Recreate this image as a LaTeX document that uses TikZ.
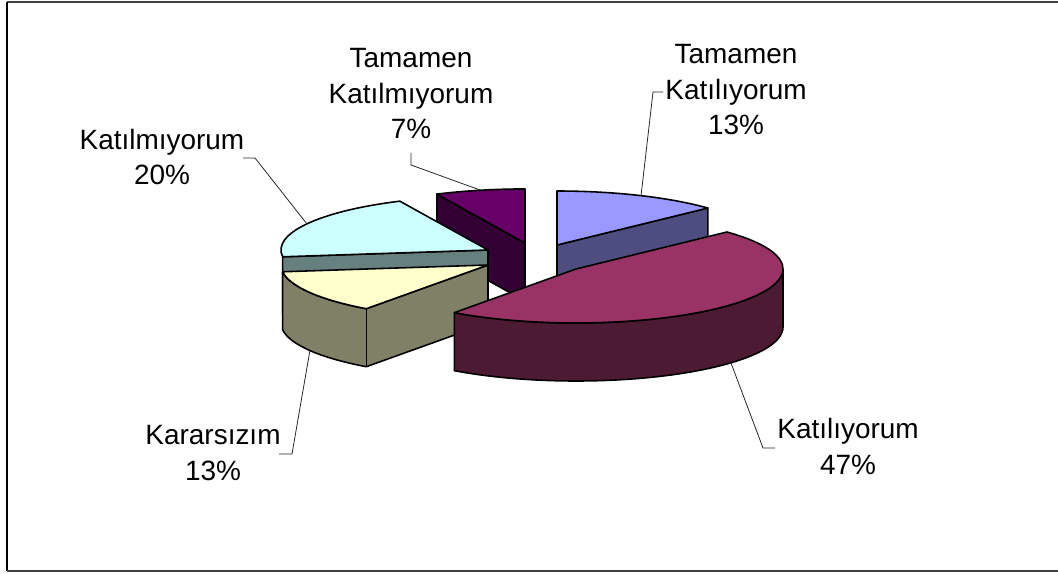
\documentclass[tikz,border=0pt]{standalone}
\usepackage{fontspec}
\setmainfont{Liberation Sans}
\definecolor{tkTop}{RGB}{153,153,255}
\definecolor{tkSide}{RGB}{77,77,128}
\definecolor{kTop}{RGB}{153,51,102}
\definecolor{kSide}{RGB}{77,26,51}
\definecolor{krTop}{RGB}{255,255,204}
\definecolor{krSide}{RGB}{128,128,102}
\definecolor{kmTop}{RGB}{204,255,255}
\definecolor{kmSide}{RGB}{102,128,128}
\definecolor{tkmTop}{RGB}{102,0,102}
\definecolor{tkmSide}{RGB}{51,0,51}
\begin{document}
\begin{tikzpicture}[x=0.02cm,y=-0.02cm,
    slice/.style={draw=black,line width=0.9pt,line join=round},
    leader/.style={draw=black!85,line width=0.45pt},
    lbl/.style={align=center,anchor=base,inner sep=0pt,font=\fontsize{15.9}{20.4}\selectfont}]
    \useasboundingbox (0,0) rectangle (1058,574);
    % frame
    \draw[black!75,line width=1.4pt] (7,2) -- (1058,2);
    \draw[black,line width=1.2pt] (7,2) -- (7,571);
    \draw[black!75,line width=1.4pt] (7,571) -- (1058,571);
    % Tamamen Katilmiyorum 7%
    \filldraw[slice,fill=tkmSide] (436.9,194.1) -- (525,243) -- (525,301) -- (436.9,252.1) -- cycle;
    \filldraw[slice,fill=tkmTop] (525,243) -- (436.9,194.1) arc[start angle=244.8,end angle=270,x radius=207,y radius=54] -- cycle;
    % Tamamen Katiliyorum 13%
    \filldraw[slice,fill=tkSide] (557,245) -- (707.9,208) -- (707.9,266) -- (557,303) -- cycle;
    \filldraw[slice,fill=tkTop] (557,245) -- (557,191) arc[start angle=-90,end angle=-43.2,x radius=207,y radius=54] -- cycle;
    % Katilmiyorum 20%
    \filldraw[slice,fill=kmSide] (488,250) -- (282.6,256.8) -- (282.6,314.8) -- (488,308) -- cycle;
    \filldraw[slice,fill=kmTop] (488,250) -- (282.6,256.8) arc[start angle=172.8,end angle=244.8,x radius=207,y radius=54] -- cycle;
    % Kararsizim 13%
    \filldraw[slice,fill=krSide] (488,323) -- (366.3,366.7) arc[start angle=126,end angle=172.8,x radius=207,y radius=54]
        -- (282.6,271.8) arc[start angle=172.8,end angle=126,x radius=207,y radius=54] -- (488,265) -- cycle;
    \draw[slice] (366.3,308.7) -- (366.3,366.7);
    \filldraw[slice,fill=krTop] (488,265) -- (366.3,308.7) arc[start angle=126,end angle=172.8,x radius=207,y radius=54] -- cycle;
    % Katiliyorum 47%
    \filldraw[slice,fill=kSide] (783,269) -- (783,327) arc[start angle=0,end angle=126,x radius=207,y radius=54]
        -- (454.3,312.7) arc[start angle=126,end angle=0,x radius=207,y radius=54] -- cycle;
    \filldraw[slice,fill=kTop] (576,269) -- (726.9,232) arc[start angle=-43.2,end angle=126,x radius=207,y radius=54] -- cycle;
    % labels
    \path (736,135) node[lbl] (tkLbl) {Tamamen\\Katılıyorum\\13\%};
    \path (411,139) node[lbl] (tkmLbl) {Tamamen\\Katılmıyorum\\7\%};
    \path (162,185) node[lbl] (kmLbl) {Katılmıyorum\\20\%};
    \path (213,480) node[lbl] (krLbl) {Kararsızım\\13\%};
    \path (848,474) node[lbl] (kLbl) {Katılıyorum\\47\%};
    % leader lines
    \coordinate (tkRim) at (641,196);
    \coordinate (tkBend) at (653,92);
    \coordinate (tkEnd) at (663,92);
    \coordinate (tkmRim) at (480,190);
    \coordinate (tkmBend) at (411,165);
    \coordinate (tkmEnd) at (411,153);
    \coordinate (kmRim) at (307,224);
    \coordinate (kmBend) at (255,158);
    \coordinate (kmEnd) at (243,158);
    \coordinate (krRim) at (310,350);
    \coordinate (krBend) at (292,454);
    \coordinate (krEnd) at (279,454);
    \coordinate (kRim) at (731,363);
    \coordinate (kBend) at (763,448);
    \coordinate (kEnd) at (775,448);
    \draw[leader] (tkRim) -- (tkBend) -- (tkEnd);
    \draw[leader] (tkmRim) -- (tkmBend) -- (tkmEnd);
    \draw[leader] (kmRim) -- (kmBend) -- (kmEnd);
    \draw[leader] (krRim) -- (krBend) -- (krEnd);
    \draw[leader] (kRim) -- (kBend) -- (kEnd);
\end{tikzpicture}
\end{document}
